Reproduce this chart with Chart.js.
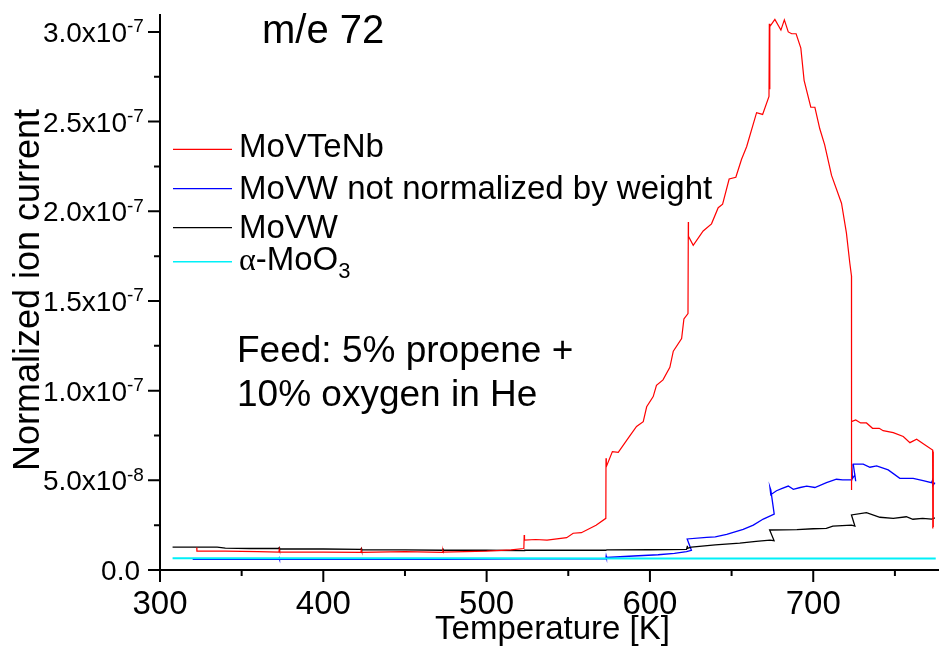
<!DOCTYPE html>
<html>
<head>
<meta charset="utf-8">
<title>m/e 72 ion current vs temperature</title>
<script src="https://cdn.jsdelivr.net/npm/chart.js@4/dist/chart.umd.min.js"></script>
<style>
  html, body { margin: 0; padding: 0; background: #ffffff; }
  #wrap { width: 939px; height: 667px; position: relative; }
</style>
</head>
<body>
<div id="wrap"><canvas id="c" width="939" height="667"></canvas></div>
<script>
// Ion current values are in units of 1e-8 A (normalized), temperatures in K.
const UNIT = 1e-8;

// [temperature, ion current]
const moVTeNb = [
  [322.5, 1.25], [322.6, 1.05], [340, 1.05], [360, 1.02], [372.8, 1.0], [373, 1.12], [373.2, 1.0],
  [400, 1.0], [423, 0.98], [423.2, 1.1], [423.4, 0.98], [450, 1.02], [473, 0.98], [473.2, 1.08], [473.4, 1.0],
  [500, 1.05], [515, 1.12], [522.8, 1.2], [523, 1.95], [523.2, 1.67], [530, 1.7], [537, 1.67],
  [549, 1.8], [553, 2.05], [558, 2.08], [567, 2.5], [573, 2.88], [573.1, 6.23], [573.3, 5.76],
  [577, 6.6], [580.6, 6.56], [586.7, 7.35], [591.8, 8.0], [595.9, 8.27], [598, 9.1], [602, 9.67],
  [604, 10.3], [608, 10.6], [612.2, 11.3], [614.3, 12.2], [619.4, 12.9], [620.8, 14.0], [623.3, 14.3],
  [623.5, 19.4], [623.6, 18.6], [626.5, 18.1], [632.6, 18.9], [637.7, 19.3], [641.8, 20.2], [644.5, 20.4],
  [648.5, 21.8], [652.6, 21.9], [656.1, 22.9], [659.2, 23.6], [665.3, 25.5], [669, 25.4], [672.9, 26.4],
  [673.1, 30.45], [673.3, 26.8], [673.5, 30.3], [676.5, 30.7], [680.2, 30.1], [682.3, 30.67], [684.7, 30.0],
  [686.8, 29.9], [689.5, 29.9], [692.4, 29.1], [694.4, 27.3], [698.5, 25.8], [701, 25.8], [704, 24.6],
  [707, 23.7], [711.2, 22.0], [717.3, 20.45], [720.3, 18.8], [722.4, 17.1], [723.4, 16.4], [723.4, 4.46],
  [723.5, 8.27], [726, 8.37], [729, 8.2], [732.6, 8.2], [736.3, 7.9], [740.4, 7.9], [742.8, 7.77],
  [749, 7.66], [755.1, 7.44], [759.2, 7.1], [763.3, 7.29], [769.4, 6.92], [773.1, 6.69], [773.2, 2.32],
  [773.4, 6.6], [773.5, 2.4]
];

const moVWRaw = [
  [320, 0.6], [372.8, 0.6], [373, 0.66], [373.2, 0.6], [423, 0.6], [473, 0.6], [523, 0.62],
  [573, 0.62], [573.2, 0.78], [573.4, 0.7], [590, 0.78], [605, 0.85], [615, 0.93], [622.4, 1.02],
  [625.4, 1.1], [622.8, 1.73], [634.7, 1.82], [640, 1.85], [647, 1.99], [657.1, 2.27], [663.3, 2.5],
  [669.4, 2.84], [676.1, 3.12], [674, 4.46], [673.5, 4.6], [674, 4.2], [677.5, 4.42], [681, 4.55],
  [684.7, 4.68], [687.8, 4.5], [692, 4.6], [696, 4.68], [701, 4.6], [708.1, 4.87], [714.2, 5.06],
  [718, 5.02], [723.4, 5.02], [723.6, 5.9], [724, 5.1], [725.5, 5.3], [726, 4.95], [724.5, 5.9],
  [730.6, 5.9], [734.7, 5.73], [738.8, 5.8], [745.9, 5.58], [753, 5.11], [761.2, 5.11], [767.3, 4.98],
  [772.4, 4.87], [773, 5.0], [773.2, 4.7], [774.5, 4.87]
];

const moVW = [
  [307.7, 1.27], [320, 1.27], [335, 1.28], [340, 1.22], [355, 1.2], [372.5, 1.2], [373, 1.25], [373.2, 1.17],
  [400, 1.17], [423, 1.15], [423.3, 1.2], [423.5, 1.12], [450, 1.12], [473, 1.1], [473.3, 1.15], [473.5, 1.1],
  [500, 1.1], [523, 1.08], [523.3, 1.1], [550, 1.1], [573, 1.1], [573.5, 1.12], [600, 1.13], [622.4, 1.15],
  [623, 1.35], [622.6, 1.2], [625.4, 1.27], [640, 1.4], [655, 1.5], [665, 1.6], [673.5, 1.67], [676, 1.64],
  [673.3, 2.23], [690, 2.25], [700, 2.3], [708, 2.32], [712, 2.45], [723.4, 2.5], [725.5, 2.45],
  [723.4, 3.07], [732.6, 3.2], [740.8, 2.94], [749, 2.88], [757, 2.97], [761, 2.83], [767, 2.88],
  [772.5, 2.84], [774.5, 2.9]
];

const alphaMoO3 = [
  [307.7, 0.66], [400, 0.65], [500, 0.65], [600, 0.64], [700, 0.64], [775, 0.64]
];

// Axis ticks
const xTickValues = [300, 400, 500, 600, 700];
const xMinorTicks = [350, 450, 550, 650, 750];
const yTickValues = [0, 5e-8, 1e-7, 1.5e-7, 2e-7, 2.5e-7, 3e-7];
const yTickText = ['0.0', '5.0x10', '1.0x10', '1.5x10', '2.0x10', '2.5x10', '3.0x10'];
const yTickExp = ['', '-8', '-7', '-7', '-7', '-7', '-7'];
const yMinorTicks = [2.5e-8, 7.5e-8, 1.25e-7, 1.75e-7, 2.25e-7, 2.75e-7];

const seriesLabels = ['MoVTeNb', 'MoVW not normalized by weight', 'MoVW', 'α-MoO3'];
const seriesColors = ['#ff0000', '#0000ff', '#000000', '#00f0f8'];

const FONT = '"Liberation Sans", Arial, Helvetica, sans-serif';
const toPoints = arr => arr.map(p => ({ x: p[0], y: p[1] * UNIT }));

const decorations = {
  id: 'decorations',
  afterDraw(chart) {
    const { ctx, chartArea: ca, scales: { x, y } } = chart;
    ctx.save();
    ctx.strokeStyle = '#000';
    ctx.fillStyle = '#000';
    ctx.lineWidth = 2;

    // axis lines
    ctx.beginPath();
    ctx.moveTo(ca.left, ca.top);
    ctx.lineTo(ca.left, ca.bottom + 12);
    ctx.moveTo(ca.left - 12, ca.bottom);
    ctx.lineTo(ca.right, ca.bottom);
    ctx.stroke();

    // ticks
    ctx.beginPath();
    xTickValues.forEach(v => { const px = x.getPixelForValue(v); ctx.moveTo(px, ca.bottom); ctx.lineTo(px, ca.bottom + 12); });
    xMinorTicks.forEach(v => { const px = x.getPixelForValue(v); ctx.moveTo(px, ca.bottom); ctx.lineTo(px, ca.bottom + 6); });
    yTickValues.forEach(v => { const py = y.getPixelForValue(v); ctx.moveTo(ca.left - 12, py); ctx.lineTo(ca.left, py); });
    yMinorTicks.forEach(v => { const py = y.getPixelForValue(v); ctx.moveTo(ca.left - 6, py); ctx.lineTo(ca.left, py); });
    ctx.stroke();

    // x tick labels
    ctx.font = '33px ' + FONT;
    ctx.textAlign = 'center';
    ctx.textBaseline = 'alphabetic';
    xTickValues.forEach(v => ctx.fillText(String(v), x.getPixelForValue(v), 614));

    // y tick labels with superscript exponent
    yTickValues.forEach((v, i) => {
      const py = y.getPixelForValue(v);
      ctx.font = '28px ' + FONT;
      ctx.textAlign = 'right';
      if (yTickExp[i]) {
        ctx.fillText(yTickText[i], 127, py + 10);
        ctx.font = '19px ' + FONT;
        ctx.textAlign = 'left';
        ctx.fillText(yTickExp[i], 127, py + 0.5);
      } else {
        ctx.fillText(yTickText[i], 140, py + 10);
      }
    });

    // axis titles
    ctx.font = '33px ' + FONT;
    ctx.textAlign = 'center';
    ctx.fillText('Temperature [K]', (ca.left + ca.right) / 2 + 3, 639);
    ctx.save();
    ctx.translate(39, 290);
    ctx.rotate(-Math.PI / 2);
    ctx.font = '36px ' + FONT;
    ctx.fillText('Normalized ion current', 0, 0);
    ctx.restore();

    // heading and feed note
    ctx.textAlign = 'left';
    ctx.font = '40px ' + FONT;
    ctx.fillText('m/e 72', 262, 43);
    ctx.font = '37px ' + FONT;
    ctx.fillText('Feed: 5% propene +', 237, 362);
    ctx.fillText('10% oxygen in He', 237, 406);

    // legend
    const rows = [157, 198.5, 237.5, 270];
    const lineY = [149.3, 188.7, 227.7, 261.7];
    seriesLabels.forEach((lab, i) => {
      ctx.strokeStyle = seriesColors[i];
      ctx.lineWidth = i === 3 ? 1.6 : 1.2;
      ctx.beginPath();
      ctx.moveTo(173, lineY[i]);
      ctx.lineTo(232, lineY[i]);
      ctx.stroke();
      ctx.fillStyle = '#000';
      ctx.textAlign = 'left';
      let tx = 239;
      const m = lab.match(/^(α)(.*?)(\d+)$/);
      if (m) {
        ctx.font = '32px "Liberation Serif", "DejaVu Serif", serif';
        ctx.fillText(m[1], tx, rows[i]);
        tx += ctx.measureText(m[1]).width;
        ctx.font = '33px ' + FONT;
        ctx.fillText(m[2], tx, rows[i]);
        tx += ctx.measureText(m[2]).width;
        ctx.font = '22px ' + FONT;
        ctx.fillText(m[3], tx, rows[i] + 8);
      } else {
        ctx.font = '33px ' + FONT;
        ctx.fillText(lab, tx, rows[i]);
      }
    });
    ctx.restore();
  }
};

new Chart(document.getElementById('c'), {
  type: 'scatter',
  data: {
    datasets: [
      { label: seriesLabels[0], data: toPoints(moVTeNb), borderColor: seriesColors[0], borderWidth: 1.2, order: 0 },
      { label: seriesLabels[1], data: toPoints(moVWRaw), borderColor: seriesColors[1], borderWidth: 1.3, order: 3 },
      { label: seriesLabels[2], data: toPoints(moVW), borderColor: seriesColors[2], borderWidth: 1.3, order: 2 },
      { label: seriesLabels[3], data: toPoints(alphaMoO3), borderColor: seriesColors[3], borderWidth: 2, order: 1 }
    ].map(d => Object.assign(d, { showLine: true, pointRadius: 0, pointHoverRadius: 0, tension: 0, fill: false }))
  },
  options: {
    responsive: false,
    animation: false,
    devicePixelRatio: 1,
    layout: { padding: { left: 160, top: 14, right: 0, bottom: 97 } },
    plugins: { legend: { display: false }, tooltip: { enabled: false } },
    scales: {
      x: { type: 'linear', display: false, min: 300, max: 777 },
      y: { type: 'linear', display: false, min: 0, max: 3.1e-7 }
    }
  },
  plugins: [decorations]
});
</script>
</body>
</html>
